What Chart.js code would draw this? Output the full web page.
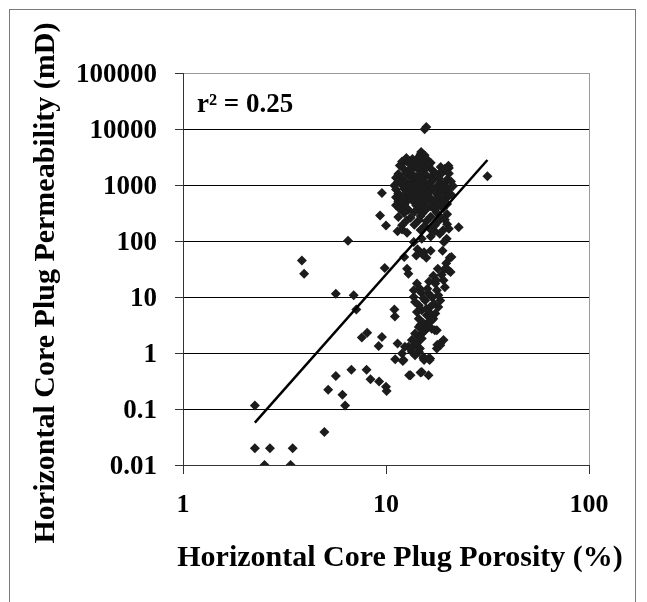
<!DOCTYPE html>
<html>
<head>
<meta charset="utf-8">
<script src="https://cdn.jsdelivr.net/npm/chart.js@4/dist/chart.umd.min.js"></script>
<style>
  html, body { margin:0; padding:0; background:#fff; overflow:hidden; }
  #wrap { position:relative; width:647px; height:602px; }
  #frame { position:absolute; left:9px; top:9px; width:627px; height:620px; border:1px solid #7a7a7a; box-sizing:border-box; }
  #chart { position:absolute; left:0; top:0; }
</style>
</head>
<body>
<div id="wrap">
  <div id="frame"></div>
  <canvas id="chart" width="647" height="602"></canvas>
</div>
<script>
// Porosidad (%) y permeabilidad (mD), punto a punto
const poroX = [
  // puntos aislados
  2.26, 2.26, 2.68, 3.47, 2.52, 3.39, 4.97, 3.85, 3.95, 6.5,
  5.66, 6.93, 7.14, 5.19, 5.66, 6.1, 6.29, 6.75, 8.02, 8.39,
  9.25, 10.0, 10.07, 7.6, 8.08, 9.2, 9.55, 9.85, 9.55, 9.35,
  10.0, 11.0, 11.06, 11.4, 12.0, 11.1, 12.1, 13.0, 14.8, 16.2,
  15.4, 16.4, 22.8, 31.6, 15.5, 15.8, 20.4, 18.7, 14.9, 12.2,
  20.3, 15.0, 12.45, 16.2,
  // alrededor de la recta / parte alta de la columna
  12.3, 12.7, 12.9, 14.3, 15.4, 16.6, 15.8, 19.0, 20.6, 13.7,
  15.0, 16.6, 18.4, 19.9, 19.3, 17.4, 11.4, 12.0, 12.7, 17.1,
  19.5, 20.3, 19.2, 19.5, 14.2, 14.7, 13.7, 14.1, 15.1, 21.0,
  // columna 1-30 mD
  17.5, 17.8, 18.1, 18.5, 18.1, 17.5, 16.8, 16.2, 15.6, 15.0,
  14.5, 14.2, 13.7, 13.7, 13.9, 14.5, 14.2, 14.5, 15.0, 15.6,
  16.2, 16.5, 15.9, 17.8, 18.5, 19.2, 12.9, 13.4, 13.9, 14.5,
  15.3, 14.5, 15.3, 16.5, 13.4, 13.9, 16.2, 17.1, 16.8, 15.3,
  15.0, 14.2, 13.2, 14.7, 12.4, 18.5, 17.8, 15.3, 16.2, 13.2,
  15.0, 12.2, 17.4, 17.9, 14.9, 16.0, 15.3, 16.9, 17.2, 15.8,
  14.8, 16.6, 17.7, 16.3, 18.8, 18.0, 19.8, 20.8,
  // nube densa 150-3500 mD
  14.8, 15.5,
  12.6, 13.5, 14.5, 15.8,
  12.0, 12.9, 14.1, 15.1, 16.6,
  11.7, 13.2, 13.8, 14.8, 16.2, 18.6,
  12.3, 13.2, 14.5, 15.5, 17.0, 19.5,
  11.5, 12.6, 13.5, 14.8, 15.8, 17.4, 18.6, 20.4,
  11.2, 12.0, 13.2, 14.1, 15.1, 16.6, 18.2, 20.0,
  11.5, 12.6, 13.5, 14.5, 15.5, 17.0, 18.6, 20.9,
  11.0, 12.0, 12.9, 13.8, 15.1, 16.2, 17.8, 19.5, 21.4,
  11.2, 12.3, 13.2, 14.5, 15.5, 17.0, 18.6, 20.4,
  11.5, 12.6, 13.8, 14.8, 16.2, 17.8, 19.5, 20.9,
  11.2, 12.0, 13.2, 14.1, 15.5, 16.6, 18.2, 20.0,
  11.5, 12.6, 13.5, 14.8, 15.8, 17.4, 19.1,
  11.2, 12.3, 14.1, 15.1, 16.6, 18.2, 20.0,
  11.7, 12.9, 14.5, 15.8, 17.4, 19.1,
  12.3, 13.8, 15.1, 17.8, 20.0,
  11.5, 13.2, 14.8, 16.6, 18.6,
  12.6, 14.5, 15.8, 18.2, 19.5,
  12.0, 13.8, 15.5, 17.4, 20.0,
  14.8, 16.6, 19.1, 20.4
];
const permY = [
  0.115, 0.020, 0.020, 0.020, 0.010, 0.010, 0.039, 45, 26, 101,
  11.4, 10.7, 6.0, 0.22, 0.39, 0.18, 0.115, 0.50, 0.50, 0.34,
  0.31, 0.25, 0.21, 1.9, 2.3, 1.33, 1.94, 33, 720, 284,
  189, 6.0, 4.5, 1.48, 0.98, 0.77, 0.72, 0.40, 0.45, 0.40,
  0.75, 0.75, 176, 1430, 9900, 10900, 2010, 1725, 3900, 2640,
  2200, 3570, 2700, 2370,
  52, 32, 26, 71, 63, 67, 50, 67, 50, 96,
  110, 120, 135, 110, 96, 150, 150, 160, 140, 24,
  32, 30, 20, 15, 17.4, 14.1, 13.2, 55, 58, 52,
  17.4, 13.2, 10.7, 8.7, 6.6, 5.1, 3.85, 2.9, 2.55, 2.24,
  1.94, 1.48, 1.29, 10, 8.1, 7.1, 5.4, 4.1, 5.8, 8.7,
  11.5, 6.6, 4.7, 2.55, 1.48, 1.7, 1.29, 1.7, 2.24, 2.9,
  3.4, 1.05, 0.85, 0.80, 1.05, 0.91, 3.6, 4.1, 2.7, 2.4,
  1.82, 1.58, 1.2, 1.2, 1.29, 1.38, 1.2, 0.80, 0.80, 0.40,
  0.46, 0.75, 2.56, 1.4, 12, 14, 9.5, 9.8, 7.6, 6.2,
  3.2, 5.0, 20, 19, 25, 32, 40, 28,
  3550, 3400,
  3020, 2900, 3150, 2950,
  2630, 2550, 2700, 2600, 2500,
  2240, 2300, 2150, 2250, 2200, 2100,
  1900, 1950, 1850, 1900, 1800, 1950,
  1580, 1620, 1550, 1600, 1500, 1650, 1550, 1600,
  1350, 1300, 1400, 1350, 1300, 1380, 1320, 1250,
  1150, 1120, 1180, 1100, 1160, 1200, 1100, 1150,
  977, 1000, 950, 990, 960, 1000, 940, 980, 960,
  832, 850, 810, 840, 820, 860, 800, 830,
  708, 690, 720, 700, 730, 690, 710, 680,
  603, 620, 590, 610, 600, 580, 620, 600,
  513, 500, 530, 510, 520, 500, 530,
  437, 450, 430, 445, 420, 440, 460,
  372, 360, 380, 370, 360, 385,
  316, 330, 310, 320, 300,
  269, 260, 280, 270, 265,
  229, 235, 225, 230, 240,
  191, 195, 185, 190, 200,
  158, 160, 155, 165
];

// Recta de tendencia (potencial) en sus dos extremos
const trendX = [2.26, 31.6];
const trendY = [0.057, 2800];

const yTicks = [0.01, 0.1, 1, 10, 100, 1000, 10000, 100000];
const xTicks = [1, 10, 100];

const xTitle = 'Horizontal Core Plug Porosity (%)';
const yTitle = 'Horizontal Core Plug Permeability (mD)';
const r2Label = 'r\u00B2 = 0.25';

const serif = '"Liberation Serif", "Times New Roman", serif';

const points = poroX.map((x, i) => ({x: x, y: permY[i]}));
const trend = trendX.map((x, i) => ({x: x, y: trendY[i]}));

// Textos fuera de los ejes: títulos y r²
const textPlugin = {
  id: 'textos',
  afterDraw(chart){
    const ctx = chart.ctx;
    ctx.save();
    ctx.fillStyle = '#000';
    ctx.font = 'bold 30px ' + serif;
    ctx.textAlign = 'center';
    ctx.textBaseline = 'alphabetic';
    ctx.fillText(xTitle, 400, 566);
    ctx.translate(54, 283);
    ctx.rotate(-Math.PI / 2);
    ctx.fillText(yTitle, 0, 0);
    ctx.restore();

    ctx.save();
    ctx.fillStyle = '#000';
    ctx.font = 'bold 27px ' + serif;
    ctx.textAlign = 'left';
    ctx.textBaseline = 'alphabetic';
    ctx.fillText(r2Label, 197, 112);
    ctx.restore();
  }
};

new Chart(document.getElementById('chart'), {
  type: 'scatter',
  data: {
    datasets: [
      {
        type: 'line',
        data: trend,
        borderColor: '#000',
        borderWidth: 2.5,
        pointRadius: 0,
        fill: false,
        order: 0
      },
      {
        data: points,
        pointStyle: 'rectRot',
        pointRadius: 5,
        pointHoverRadius: 5,
        backgroundColor: '#1c1c1c',
        borderWidth: 0,
        order: 1
      }
    ]
  },
  options: {
    responsive: false,
    animation: false,
    devicePixelRatio: 1,
    layout: { padding: { left: 0, top: 73, right: 58, bottom: 0 } },
    plugins: { legend: { display: false }, tooltip: { enabled: false } },
    scales: {
      x: {
        type: 'logarithmic',
        min: 1,
        max: 100,
        afterBuildTicks: s => { s.ticks = xTicks.map(v => ({value: v})); },
        afterFit: s => { s.height = 137; },
        ticks: {
          autoSkip: false,
          maxRotation: 0,
          padding: 16,
          color: '#000',
          font: { family: serif, size: 26, weight: 'bold' },
          callback: v => String(v)
        },
        grid: {
          color: c => (c.tick && c.tick.value === 100) ? '#9a9a9a' : 'rgba(0,0,0,0)',
          tickColor: '#333',
          tickLength: 9,
          lineWidth: 1
        },
        border: { color: '#333', width: 1 }
      },
      y: {
        type: 'logarithmic',
        min: 0.01,
        max: 100000,
        afterBuildTicks: s => { s.ticks = yTicks.map(v => ({value: v})); },
        afterFit: s => { s.width = 183; },
        ticks: {
          autoSkip: false,
          padding: 18,
          labelOffset: 2,
          color: '#000',
          font: { family: serif, size: 27, weight: 'bold' },
          callback: v => String(v)
        },
        grid: {
          color: c => (c.tick && c.tick.value === 100000) ? '#9a9a9a' : '#000',
          tickColor: '#333',
          tickLength: 8,
          lineWidth: 1
        },
        border: { color: '#333', width: 1 }
      }
    }
  },
  plugins: [textPlugin]
});
</script>
</body>
</html>
